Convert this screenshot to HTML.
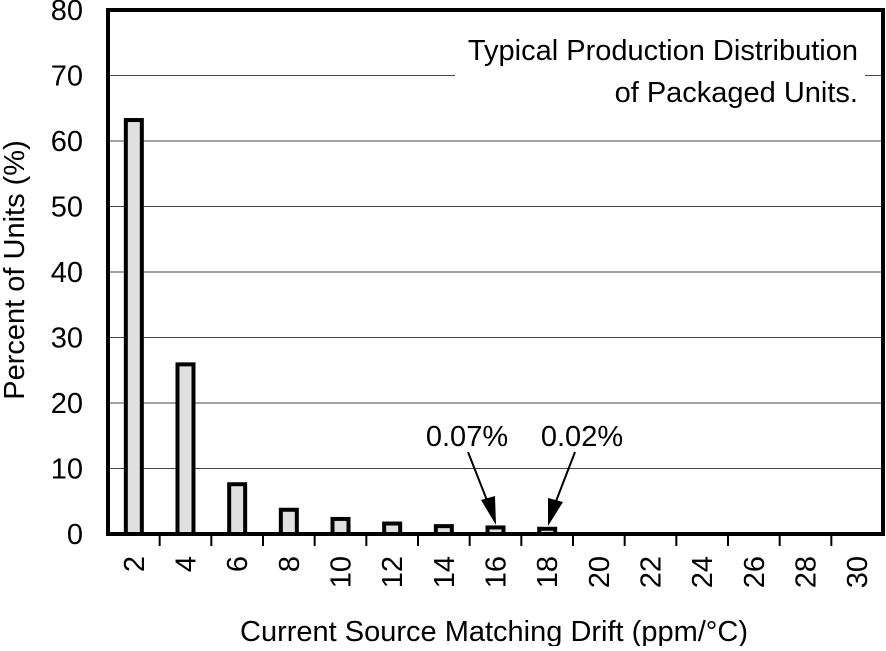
<!DOCTYPE html>
<html><head><meta charset="utf-8"><style>
body{margin:0;background:#fff;}
svg text{font-family:"Liberation Sans",sans-serif;fill:#000;}
</style></head><body>
<svg id="chart" width="886" height="646" xmlns="http://www.w3.org/2000/svg">
<g id="grid"></g>
<g id="bars"></g>
<g id="axes"></g>
<rect x="455" y="60" width="410" height="30" fill="#fff"/>
<text x="858" y="60" font-size="29" text-anchor="end">Typical Production Distribution</text>
<text x="858" y="102" font-size="29" text-anchor="end">of Packaged Units.</text>
<text x="467" y="446" font-size="29" text-anchor="middle">0.07%</text>
<text x="582" y="446" font-size="29" text-anchor="middle">0.02%</text>
<line x1="468" y1="452" x2="490" y2="508" stroke="#000" stroke-width="2"/>
<polygon points="496,525 481,500 495,496" fill="#000"/>
<line x1="575" y1="452" x2="553" y2="509" stroke="#000" stroke-width="2"/>
<polygon points="548,526 548,498 563,502" fill="#000"/>
<text x="494" y="641" font-size="29" text-anchor="middle">Current Source Matching Drift (ppm/°C)</text>
<text transform="translate(24,270) rotate(-90)" font-size="29" text-anchor="middle">Percent of Units (%)</text>
</svg>
<script>
const categories=["2","4","6","8","10","12","14","16","18","20","22","24","26","28","30"];
const values=[63.2,25.9,7.6,3.7,2.3,1.6,1.2,1.0,0.8,0,0,0,0,0,0];
const yTicks=[0,10,20,30,40,50,60,70,80];
const L=108,R=883,T=10,B=534,yMax=80;
const bw=(R-L)/categories.length;
const y=v=>B-(v/yMax)*(B-T);
const xc=i=>L+bw*(i+0.5);
const NS="http://www.w3.org/2000/svg";
function mk(tag,attrs,parent){const e=document.createElementNS(NS,tag);for(const k in attrs)e.setAttribute(k,attrs[k]);document.getElementById(parent).appendChild(e);return e;}
yTicks.forEach(t=>{
  if(t>0&&t<yMax){const g=mk('line',{x1:L,x2:R,y1:y(t),y2:y(t),stroke:'#444','stroke-width':1},'grid');
  
  }
  const lb=mk('text',{x:83,y:y(t)+10,'font-size':29,'text-anchor':'end'},'axes');lb.textContent=t;
  
  
});
values.forEach((v,i)=>{
  if(v<=0)return;
  const r=mk('rect',{x:xc(i)-8,y:y(v),width:16,height:B-y(v),fill:'#e0e0e0',stroke:'#000','stroke-width':4},'bars');
  
  
});
categories.forEach((c,i)=>{
  const lb=mk('text',{transform:`translate(${xc(i)+10},556) rotate(-90)`,'font-size':29,'text-anchor':'end'},'axes');lb.textContent=c;
  
  
  if(i>0){const tk=mk('line',{x1:L+bw*i,x2:L+bw*i,y1:B,y2:B+12,stroke:'#000','stroke-width':2},'axes');
  
  }
});
const fr=mk('rect',{x:L,y:T,width:R-L,height:B-T,fill:'none',stroke:'#000','stroke-width':4},'axes');


</script>
</body></html>
